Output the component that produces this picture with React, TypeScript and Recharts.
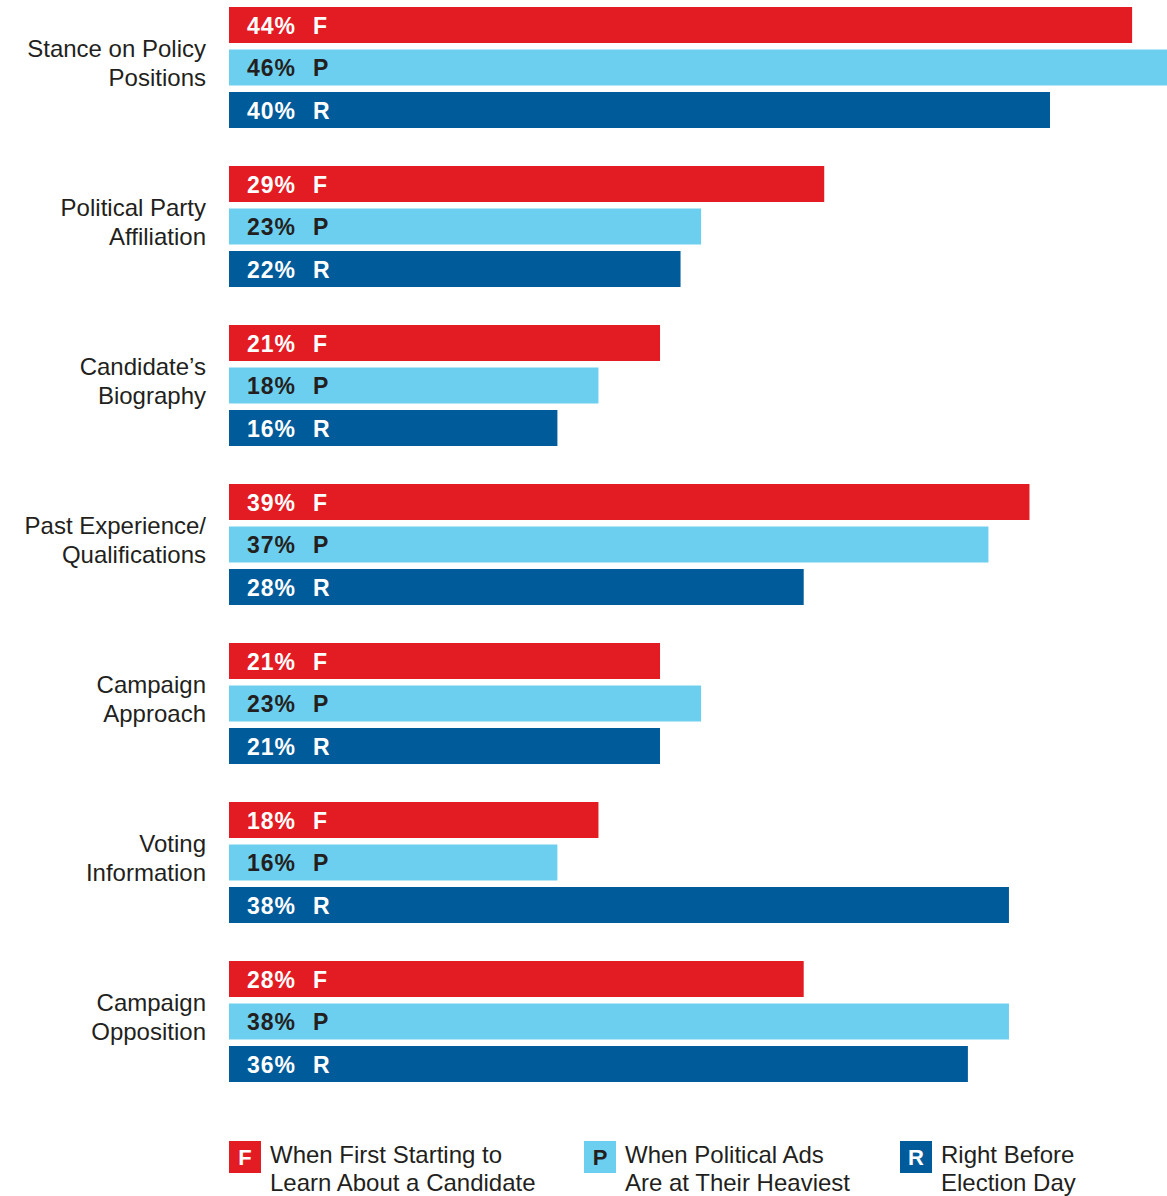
import { Bar, BarChart, XAxis, YAxis, LabelList } from "recharts"

const categories = [
  "Stance on Policy\nPositions",
  "Political Party\nAffiliation",
  "Candidate’s\nBiography",
  "Past Experience/\nQualifications",
  "Campaign\nApproach",
  "Voting\nInformation",
  "Campaign\nOpposition",
]

const firstStart = [44, 29, 21, 39, 21, 18, 28]
const politicalAds = [46, 23, 18, 37, 23, 16, 38]
const beforeElection = [40, 22, 16, 28, 21, 38, 36]

const series = [
  { key: "f", letter: "F", label: "When First Starting to\nLearn About a Candidate", color: "#E31B23", text: "#ffffff" },
  { key: "p", letter: "P", label: "When Political Ads\nAre at Their Heaviest", color: "#6DCFEF", text: "#231f20" },
  { key: "r", letter: "R", label: "Right Before\nElection Day", color: "#005B9A", text: "#ffffff" },
]

const data = categories.map((name, i) => ({
  name,
  f: firstStart[i],
  p: politicalAds[i],
  r: beforeElection[i],
}))

const font = "'Liberation Sans', Arial, Helvetica, sans-serif"

function CategoryTick(props: any) {
  const { y, payload } = props
  const lines = String(payload.value).split("\n")
  return (
    <text x={206} y={y} textAnchor="end" fontSize={24} fill="#231f20" fontFamily={font}>
      {lines.map((l, i) => (
        <tspan key={i} x={206} y={y - 10.5 + i * 29}>
          {l}
        </tspan>
      ))}
    </text>
  )
}

function makeLabel(letter: string, color: string) {
  return (props: any) => {
    const { x, y, height, value } = props
    const base = y + height / 2 + 8.5
    return (
      <g fontFamily={font} fontWeight="bold" fontSize={23} fill={color}>
        <text x={x + 18} y={base} letterSpacing={1}>{value}%</text>
        <text x={x + 84} y={base}>{letter}</text>
      </g>
    )
  }
}

export default function App() {
  return (
    <div style={{ position: "absolute", left: 0, top: 0, width: 1167, height: 1196, overflow: "hidden", background: "#fff" }}>
      <div style={{ position: "absolute", left: 0, top: -12 }}>
        <BarChart
          width={1167}
          height={1208}
          data={data}
          layout="vertical"
          margin={{ top: 0, right: 0, bottom: 95, left: 0 }}
          barSize={36}
          barGap={6.5}
        >
          <XAxis type="number" domain={[0, 45.7]} allowDataOverflow hide />
          <YAxis
            type="category"
            dataKey="name"
            width={229}
            axisLine={false}
            tickLine={false}
            tick={<CategoryTick />}
            interval={0}
          />
          {series.map((s) => (
            <Bar key={s.key} dataKey={s.key} fill={s.color} isAnimationActive={false}>
              <LabelList dataKey={s.key} content={makeLabel(s.letter, s.text)} />
            </Bar>
          ))}
        </BarChart>
      </div>
      {series.map((s, i) => (
        <div
          key={s.key}
          style={{
            position: "absolute",
            left: [229, 584, 900][i],
            top: 1141,
            display: "flex",
            fontFamily: font,
          }}
        >
          <div
            style={{
              width: 32,
              height: 32,
              background: s.color,
              color: s.text,
              fontWeight: "bold",
              fontSize: 22,
              lineHeight: "34px",
              textAlign: "center",
            }}
          >
            {s.letter}
          </div>
          <div style={{ marginLeft: 9, fontSize: 24, lineHeight: "28px", color: "#231f20", whiteSpace: "pre" }}>
            {s.label}
          </div>
        </div>
      ))}
    </div>
  )
}
